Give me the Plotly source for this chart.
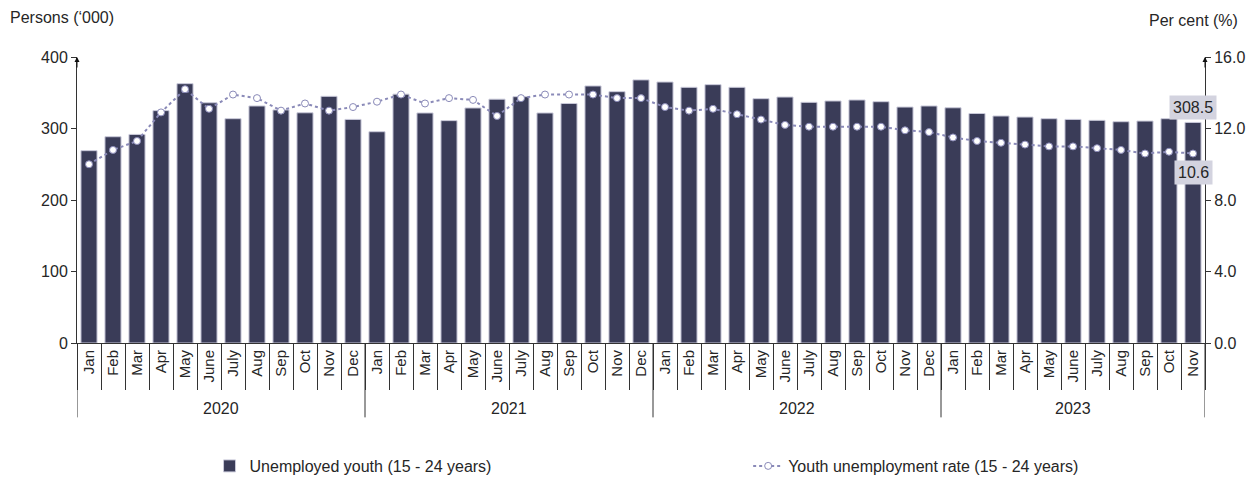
import plotly.graph_objects as go

years = ["2020"] * 12 + ["2021"] * 12 + ["2022"] * 12 + ["2023"] * 11
month_names = ["Jan", "Feb", "Mar", "Apr", "May", "June", "July", "Aug", "Sep", "Oct", "Nov", "Dec"]
months = month_names * 3 + month_names[:11]

unemployed = [
    269, 288.5, 291.7, 325, 362.7, 336, 313.7, 331.5, 326, 322, 345, 312.7,
    295.5, 348, 321.7, 311, 328.7, 341, 344.5, 321.7, 335, 359.5, 351.5, 368,
    365, 357.6, 361.3, 357.6, 341.7, 344, 336.6, 338.5, 339.9, 337.5, 330, 331.5,
    329, 321, 317.5, 316, 313.7, 312.7, 311.4, 309.5, 310.4, 313.7, 308.5,
]
rate = [
    10.0, 10.8, 11.3, 12.9, 14.2, 13.1, 13.9, 13.7, 13.0, 13.4, 13.0, 13.2,
    13.5, 13.9, 13.4, 13.7, 13.6, 12.7, 13.7, 13.9, 13.9, 13.9, 13.7, 13.7,
    13.2, 13.0, 13.1, 12.8, 12.5, 12.2, 12.1, 12.1, 12.1, 12.1, 11.9, 11.8,
    11.5, 11.3, 11.2, 11.1, 11.0, 11.0, 10.9, 10.8, 10.6, 10.7, 10.6,
]

FONT = "Liberation Sans, Arial, sans-serif"
TXT = "#262626"
AX = "#333333"

n = len(months)
pos = list(range(n))

# year groups derived from the data
year_order = []
for y in years:
    if y not in year_order:
        year_order.append(y)
year_start = [years.index(y) for y in year_order]
year_end = [len(years) - 1 - years[::-1].index(y) for y in year_order]

fig = go.Figure()
fig.add_trace(go.Bar(
    x=pos, y=unemployed,
    name="Unemployed youth (15 - 24 years)",
    marker=dict(color="#3a3c58", line=dict(color="#c9c9d9", width=1)),
    yaxis="y", legend="legend",
))
fig.add_trace(go.Scatter(
    x=pos, y=rate,
    name="Youth unemployment rate (15 - 24 years)",
    mode="lines+markers",
    line=dict(color="#8a8ab8", width=2, dash="dot"),
    marker=dict(color="white", size=7, line=dict(color="#8a8ab8", width=1)),
    yaxis="y2", legend="legend2",
))

annotations = [
    dict(text="Persons (‘000)", xref="paper", yref="paper", x=-0.0612, y=1.0,
         yshift=40, xanchor="left", yanchor="middle", showarrow=False,
         font=dict(size=16, color=TXT)),
    dict(text="Per cent (%)", xref="paper", yref="paper", x=1.031, y=1.0,
         yshift=37, xanchor="right", yanchor="middle", showarrow=False,
         font=dict(size=16, color=TXT)),
    dict(text="", xref="paper", yref="paper", x=0, y=1, ax=0, ay=12,
         showarrow=True, arrowhead=2, arrowsize=1, arrowwidth=1, arrowcolor="#111"),
    dict(text="", xref="paper", yref="paper", x=1, y=1, ax=0, ay=12,
         showarrow=True, arrowhead=2, arrowsize=1, arrowwidth=1, arrowcolor="#111"),
    dict(text=f"{unemployed[-1]:.1f}", x=pos[-1], y=unemployed[-1],
         xref="x", yref="y", yshift=15, showarrow=False,
         bgcolor="#d3d3df", borderpad=3, font=dict(size=16, color=TXT)),
    dict(text=f"{rate[-1]:.1f}", x=pos[-1], y=rate[-1],
         xref="x", yref="y2", yshift=-19, showarrow=False,
         bgcolor="#d3d3df", borderpad=3, font=dict(size=16, color=TXT)),
]
shapes = []
for yr, s, e in zip(year_order, year_start, year_end):
    annotations.append(dict(
        text=yr, x=(s + e) / 2, xref="x", y=0, yref="paper", yshift=-65,
        showarrow=False, xanchor="center", yanchor="middle",
        font=dict(size=16, color=TXT)))
    shapes.append(dict(type="line", xref="x", yref="paper", x0=s - 0.5, x1=s - 0.5,
                       y0=0, y1=-0.26, line=dict(color=AX, width=1)))
shapes.append(dict(type="line", xref="x", yref="paper", x0=year_end[-1] + 0.5,
                   x1=year_end[-1] + 0.5, y0=0, y1=-0.26, line=dict(color=AX, width=1)))

fig.update_layout(
    width=1250, height=469,
    margin=dict(l=69, r=53, t=49, b=134, autoexpand=False),
    paper_bgcolor="white", plot_bgcolor="white",
    font=dict(family=FONT, size=16, color=TXT),
    bargap=0.33,
    showlegend=True,
    legend=dict(orientation="h", x=0.1175, xanchor="left", y=-0.43, yanchor="middle",
                font=dict(size=16, color=TXT), bgcolor="rgba(0,0,0,0)"),
    legend2=dict(orientation="h", x=0.595, xanchor="left", y=-0.43, yanchor="middle",
                 font=dict(size=16, color=TXT), bgcolor="rgba(0,0,0,0)"),
    xaxis=dict(
        range=[-0.5, n - 0.5],
        tickmode="array", tickvals=pos, ticktext=months,
        tickangle=-90, ticks="",
        showline=True, linecolor=AX, linewidth=1,
        tickfont=dict(size=15, color=TXT),
        minor=dict(tickmode="linear", tick0=-0.5, dtick=1, ticks="outside",
                   ticklen=46, tickcolor=AX, tickwidth=1, showgrid=False),
        showgrid=False, zeroline=False, automargin=False,
    ),
    yaxis=dict(
        range=[0, 400], dtick=100, showgrid=False, zeroline=False,
        showline=True, linecolor=AX, linewidth=1,
        ticks="outside", ticklen=5, tickcolor=AX,
        tickfont=dict(size=16, color=TXT), automargin=False,
    ),
    yaxis2=dict(
        range=[0, 16], dtick=4, tickformat=".1f", overlaying="y", side="right",
        showgrid=False, zeroline=False,
        showline=True, linecolor=AX, linewidth=1,
        ticks="outside", ticklen=5, tickcolor=AX,
        tickfont=dict(size=16, color=TXT), automargin=False,
    ),
    annotations=annotations,
    shapes=shapes,
)

fig.write_html("out.html")
